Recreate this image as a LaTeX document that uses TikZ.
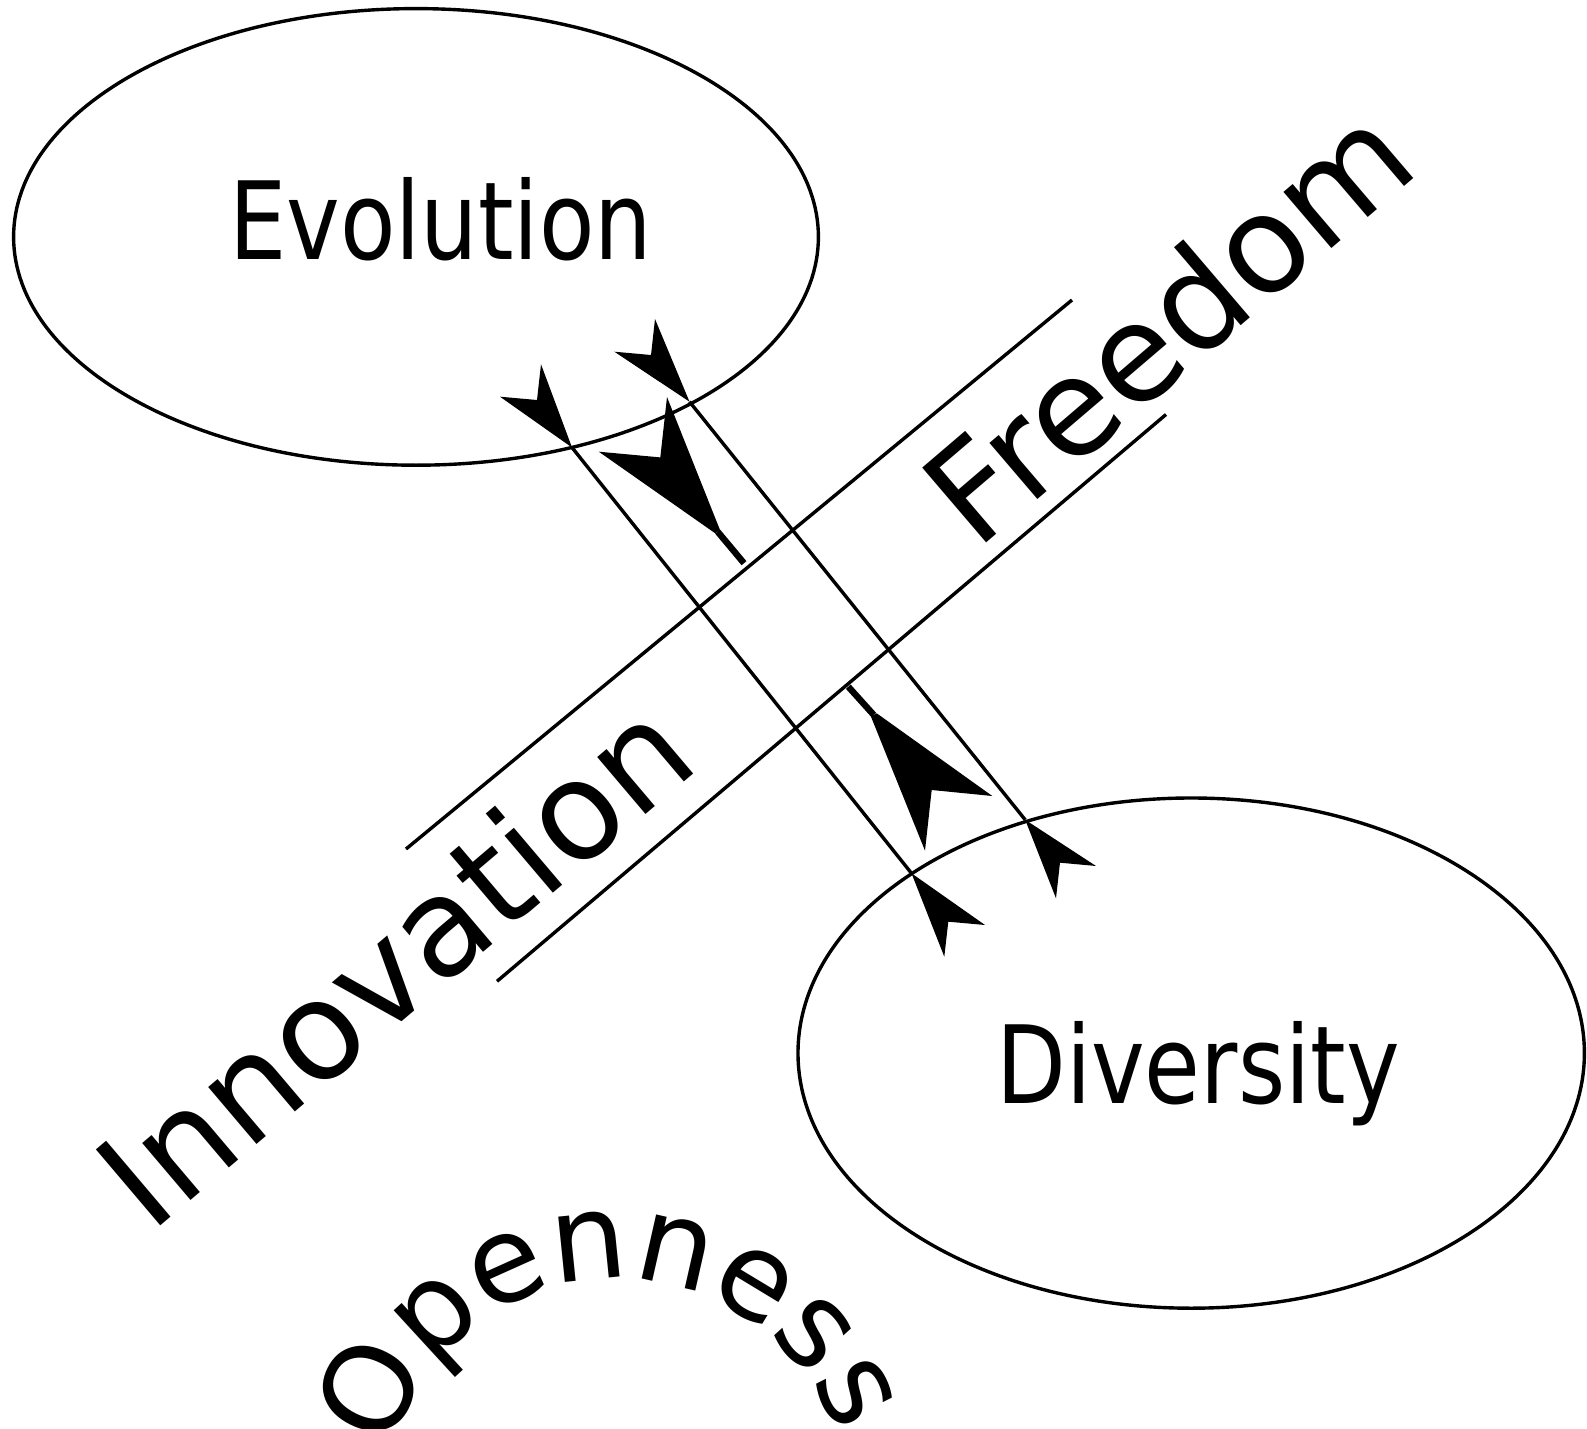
\documentclass[tikz,border=0pt]{standalone}
\usepackage{fontspec}
\usetikzlibrary{decorations.text,shapes.geometric}
\newfontfamily\dv{DejaVu Sans}
\newfontfamily\dvc[FakeStretch=0.84]{DejaVu Sans}
\begin{document}
\begin{tikzpicture}[x=0.5pt,y=0.5pt,
  bubble/.style={draw, line width=1.7pt, ellipse, inner sep=0pt, outer sep=0pt},
  ln/.style={line width=1.7pt},
  head/.style={fill=black, draw=none},
  shaft/.style={line width=3.2pt},
  lbl/.style={inner sep=0pt, anchor=base, font=\dvc\fontsize{54}{54}\selectfont},
  big/.style={inner sep=0pt, anchor=base west}]
\useasboundingbox (0,0) rectangle (1587,-1429);

% ellipses
\node[bubble, minimum width=402.4pt, minimum height=228.3pt] (evo) at (416,-236.9) {};
\node[bubble, minimum width=393.2pt, minimum height=255.1pt] (div) at (1191.2,-1053.1) {};
\node[lbl] (evot) at (440.5,-259) {Evolution};
\node[lbl] (divt) at (1198,-1103.3) {Diversity};

% end points of connectors
\coordinate (a1) at (572,-447.5);
\coordinate (a2) at (911.5,-873.3);
\coordinate (b1) at (689.5,-401.7);
\coordinate (b2) at (1025.2,-819.8);
\coordinate (p1) at (406,-849);
\coordinate (p2) at (1072,-300);
\coordinate (q1) at (497,-981.3);
\coordinate (q2) at (1166,-414.5);

\draw[ln] (a1) -- (a2);
\draw[ln] (b1) -- (b2);
\draw[ln] (p1) -- (p2);
\draw[ln] (q1) -- (q2);

% arrow heads on the connectors
\fill[head] (a1) -- (541,-364.3) -- (537,-400) -- (500,-396.7) -- cycle;
\fill[head] (b1) -- (655,-319) -- (651,-355) -- (614.3,-351.7) -- cycle;
\fill[head] (a2) -- (944.3,-956.7) -- (948.3,-921.7) -- (985,-925) -- cycle;
\fill[head] (b2) -- (1056,-898.3) -- (1060,-862.7) -- (1096,-866) -- cycle;

% big arrows
\fill[head] (720,-530) -- (667,-397) -- (660.3,-457.4) -- (598.8,-451.7) -- (715.2,-533.3) -- cycle;
\draw[shaft] (717.6,-531.6) -- (744,-563.2);
\fill[head] (871,-716.7) -- (925,-850.7) -- (931.7,-790) -- (992.3,-796) -- (876.7,-713.3) -- cycle;
\draw[shaft] (848.3,-686.7) -- (873.8,-715);

% rotated words
\node[big, rotate=40.5, font=\dv\fontsize{67.5}{67.5}\selectfont] (free) at (976.3,-551.7) {Freedom};
\node[big, rotate=40.3, font=\dv\fontsize{68.3}{68.3}\selectfont] (inno) at (150.2,-1234.8) {Innovation};

% curved word
\path[decorate, decoration={text along path, text align=center,
   text={|\dv\fontsize{60}{60}\selectfont|Openness}}]
   (616.5,-1512.7) ++(182.1:234) arc[start angle=182.1, end angle=2.1, radius=234];
\end{tikzpicture}
\end{document}
